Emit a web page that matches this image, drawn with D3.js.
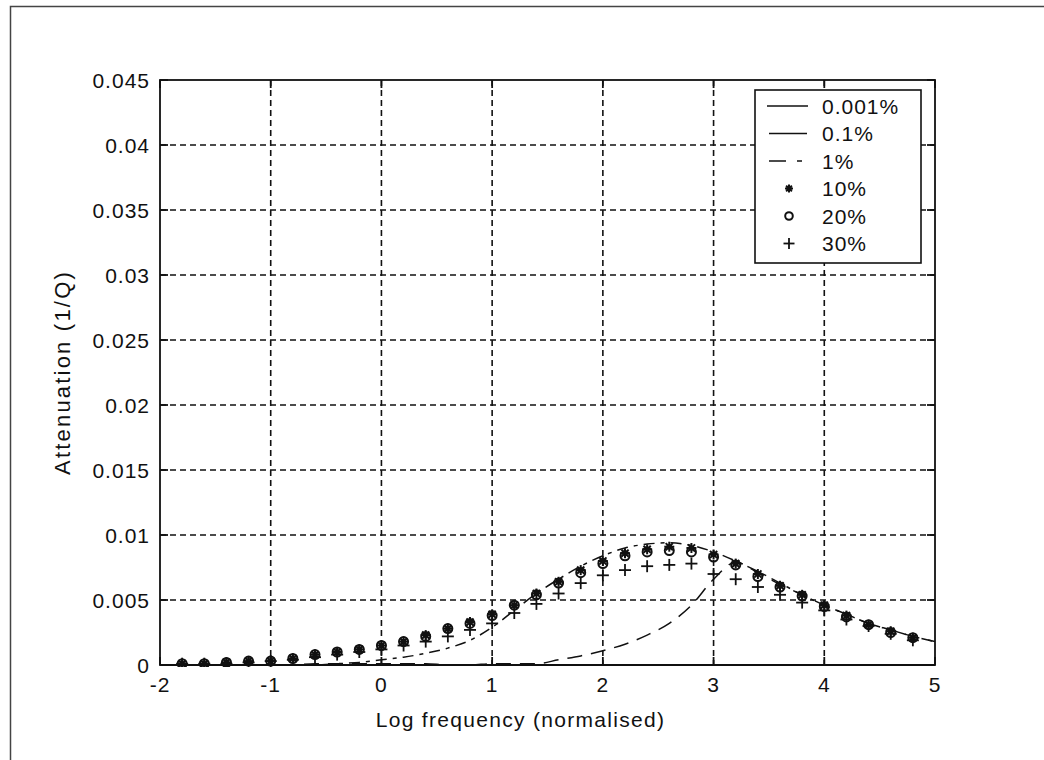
<!DOCTYPE html>
<html>
<head>
<meta charset="utf-8">
<script src="https://cdn.jsdelivr.net/npm/d3@7/dist/d3.min.js"></script>
<style>
  html, body { margin: 0; padding: 0; background: #fff; }
  svg { display: block; }
  text { font-family: "Liberation Sans", Arial, sans-serif; fill: #111; }
</style>
</head>
<body>
<svg id="chart" width="1044" height="760"></svg>
<script>
// Sampled log frequencies for the model curves
const lineFreq = [-2, -1.8, -1.6, -1.4, -1.2, -1, -0.8, -0.6, -0.4, -0.2, 0, 0.2, 0.4, 0.6, 0.8,
  1, 1.2, 1.4, 1.6, 1.8, 2, 2.2, 2.4, 2.6, 2.8, 3, 3.2, 3.4, 3.6, 3.8, 4, 4.2, 4.4, 4.6, 4.8, 5];
const curve0001 = [0, 0, 0, 0, 0, 0, 0, 0, 0, 0, 0, 0, 0, 0, 0,
  0, 0, 0, 0, 0, 0, 0, 0, 0, 0, 0, 0, 0, 0, 0, 0, 0, 0, 0, 0, 0];
const curve01 = [0, 0, 0, 0, 0, 0, 0, 0.0001, 0.0001, 0.0001, 0.0001, 0.0001, 0.0001, 0, 0,
  0.0001, 0.0001, 0.0001, 0.0004, 0.0007, 0.0011, 0.0016, 0.0023, 0.0032, 0.0046, 0.0066, 0.0079, 0.0071, 0.0062, 0.0054,
  0.0046, 0.0039, 0.0032, 0.0027, 0.0022, 0.0018];
const curve1 = [0, 0, 0, 0, 0, 0, 0, 0, 0.0001, 0.0002, 0.0004, 0.0006, 0.0009, 0.0013, 0.0019,
  0.0029, 0.0042, 0.0055, 0.0066, 0.0076, 0.0084, 0.0090, 0.0093, 0.0094, 0.0092, 0.0087, 0.0080, 0.0072, 0.0063, 0.0054,
  0.0046, 0.0039, 0.0032, 0.0027, 0.0022, 0.0018];

// Frequencies of the marker series
const markFreq = [-1.8, -1.6, -1.4, -1.2, -1, -0.8, -0.6, -0.4, -0.2, 0, 0.2, 0.4, 0.6, 0.8,
  1, 1.2, 1.4, 1.6, 1.8, 2, 2.2, 2.4, 2.6, 2.8, 3, 3.2, 3.4, 3.6, 3.8, 4, 4.2, 4.4, 4.6, 4.8];
const att10 = [0.0001, 0.0001, 0.0002, 0.0003, 0.0003, 0.0005, 0.0008, 0.0010, 0.0012, 0.0015, 0.0018, 0.0023, 0.0028, 0.0033,
  0.0039, 0.0046, 0.0055, 0.0064, 0.0073, 0.0080, 0.0086, 0.0089, 0.0091, 0.0090, 0.0085, 0.0078, 0.0070, 0.0061, 0.0054,
  0.0046, 0.0038, 0.0031, 0.0026, 0.0021];
const att20 = [0.0001, 0.0001, 0.0002, 0.0003, 0.0003, 0.0005, 0.0008, 0.0010, 0.0012, 0.0015, 0.0018, 0.0022, 0.0028, 0.0032,
  0.0038, 0.0046, 0.0054, 0.0063, 0.0071, 0.0078, 0.0084, 0.0087, 0.0088, 0.0087, 0.0083, 0.0077, 0.0068, 0.0060, 0.0053,
  0.0045, 0.0037, 0.0031, 0.0025, 0.0021];
const att30 = [0.0001, 0.0001, 0.0001, 0.0002, 0.0003, 0.0004, 0.0006, 0.0008, 0.0010, 0.0012, 0.0015, 0.0018, 0.0022, 0.0027,
  0.0032, 0.0040, 0.0047, 0.0055, 0.0063, 0.0069, 0.0073, 0.0076, 0.0077, 0.0078, 0.0070, 0.0066, 0.0060, 0.0054, 0.0048,
  0.0042, 0.0035, 0.0030, 0.0024, 0.0019];

const xTicks = [-2, -1, 0, 1, 2, 3, 4, 5];
const yTicks = [0, 0.005, 0.01, 0.015, 0.02, 0.025, 0.03, 0.035, 0.04, 0.045];
const yTickLabels = ["0", "0.005", "0.01", "0.015", "0.02", "0.025", "0.03", "0.035", "0.04", "0.045"];
const legendLabels = ["0.001%", "0.1%", "1%", "10%", "20%", "30%"];

const svg = d3.select("#chart");
const W = 1044, H = 760;
const m = { left: 160, right: 935, top: 80, bottom: 665 };

svg.append("rect").attr("width", W).attr("height", H).attr("fill", "#fff");

// figure frame
svg.append("path")
  .attr("d", `M10.5,${H} L10.5,6.5 L${W},6.5`)
  .attr("fill", "none").attr("stroke", "#444").attr("stroke-width", 1.5);

const x = d3.scaleLinear().domain([-2, 5]).range([m.left, m.right]);
const y = d3.scaleLinear().domain([0, 0.045]).range([m.bottom, m.top]);

// dashed grid
const grid = svg.append("g").attr("stroke", "#111").attr("stroke-width", 1.6)
  .attr("stroke-dasharray", "6,4");
grid.selectAll("line.v").data(xTicks.slice(1, -1)).join("line")
  .attr("x1", d => x(d)).attr("x2", d => x(d))
  .attr("y1", m.top).attr("y2", m.bottom);
grid.selectAll("line.h").data(yTicks.slice(1, -1)).join("line")
  .attr("x1", m.left).attr("x2", m.right)
  .attr("y1", d => y(d)).attr("y2", d => y(d));

svg.append("clipPath").attr("id", "plotClip").append("rect")
  .attr("x", m.left).attr("y", m.top - 2)
  .attr("width", m.right - m.left).attr("height", m.bottom - m.top + 4);

const plot = svg.append("g").attr("clip-path", "url(#plotClip)");

const line = d3.line().x(d => x(d[0])).y(d => y(d[1])).curve(d3.curveMonotoneX);
const curves = [
  { vals: curve0001, dash: null, w: 2.2 },
  { vals: curve01, dash: "15,9", w: 1.5 },
  { vals: curve1, dash: "11,6,4,6", w: 1.5 }
];
curves.forEach(c => {
  plot.append("path")
    .datum(lineFreq.map((f, i) => [f, c.vals[i]]))
    .attr("d", line)
    .attr("fill", "none").attr("stroke", "#111")
    .attr("stroke-width", c.w)
    .attr("stroke-dasharray", c.dash);
});

// marker shapes
function asterisk(g, cx, cy, r) {
  const p = g.append("g").attr("stroke", "#111").attr("stroke-width", 2);
  const d = r * 0.72;
  p.append("line").attr("x1", cx - r).attr("x2", cx + r).attr("y1", cy).attr("y2", cy);
  p.append("line").attr("x1", cx).attr("x2", cx).attr("y1", cy - r).attr("y2", cy + r);
  p.append("line").attr("x1", cx - d).attr("x2", cx + d).attr("y1", cy - d).attr("y2", cy + d);
  p.append("line").attr("x1", cx - d).attr("x2", cx + d).attr("y1", cy + d).attr("y2", cy - d);
  g.append("circle").attr("cx", cx).attr("cy", cy).attr("r", 2.8).attr("fill", "#111");
}
function ring(g, cx, cy, r) {
  g.append("circle").attr("cx", cx).attr("cy", cy).attr("r", r)
    .attr("fill", "none").attr("stroke", "#111").attr("stroke-width", 2);
}
function plus(g, cx, cy, r) {
  const p = g.append("g").attr("stroke", "#111").attr("stroke-width", 1.8);
  p.append("line").attr("x1", cx - r).attr("x2", cx + r).attr("y1", cy).attr("y2", cy);
  p.append("line").attr("x1", cx).attr("x2", cx).attr("y1", cy - r).attr("y2", cy + r);
}

const marks = plot.append("g");
markFreq.forEach((f, i) => asterisk(marks, x(f), y(att10[i]), 5));
markFreq.forEach((f, i) => ring(marks, x(f), y(att20[i]), 4.5));
markFreq.forEach((f, i) => plus(marks, x(f), y(att30[i]), 6));

// axes box with inward ticks
const axisG = svg.append("g").attr("stroke", "#111").attr("stroke-width", 1.8);
axisG.append("rect")
  .attr("x", m.left).attr("y", m.top)
  .attr("width", m.right - m.left).attr("height", m.bottom - m.top)
  .attr("fill", "none");
const tl = 8;
axisG.selectAll("line.xb").data(xTicks).join("line")
  .attr("x1", d => x(d)).attr("x2", d => x(d)).attr("y1", m.bottom).attr("y2", m.bottom - tl);
axisG.selectAll("line.xt").data(xTicks).join("line")
  .attr("x1", d => x(d)).attr("x2", d => x(d)).attr("y1", m.top).attr("y2", m.top + tl);
axisG.selectAll("line.yl").data(yTicks).join("line")
  .attr("y1", d => y(d)).attr("y2", d => y(d)).attr("x1", m.left).attr("x2", m.left + tl);
axisG.selectAll("line.yr").data(yTicks).join("line")
  .attr("y1", d => y(d)).attr("y2", d => y(d)).attr("x1", m.right).attr("x2", m.right - tl);

const fs = 21;
svg.append("g").selectAll("text").data(xTicks).join("text")
  .attr("x", d => x(d)).attr("y", 692)
  .attr("text-anchor", "middle").attr("font-size", fs).attr("letter-spacing", 1)
  .text(d => d);
svg.append("g").selectAll("text").data(yTicks).join("text")
  .attr("x", 150).attr("y", d => y(d)).attr("dy", "0.36em")
  .attr("text-anchor", "end").attr("font-size", fs).attr("letter-spacing", 1)
  .text((d, i) => yTickLabels[i]);

svg.append("text")
  .attr("x", (m.left + m.right) / 2 - 27).attr("y", 727)
  .attr("text-anchor", "middle").attr("font-size", fs).attr("letter-spacing", 1.3)
  .text("Log frequency (normalised)");
svg.append("text")
  .attr("transform", `translate(70,${(m.top + m.bottom) / 2}) rotate(-90)`)
  .attr("text-anchor", "middle").attr("font-size", 22).attr("letter-spacing", 2.2)
  .text("Attenuation (1/Q)");

// legend
const lg = svg.append("g");
lg.append("rect").attr("x", 755).attr("y", 90).attr("width", 166).attr("height", 173)
  .attr("fill", "#fff").attr("stroke", "#111").attr("stroke-width", 1.6);
const rowY = i => 106 + i * 27.5;
const samples = [
  g => g.append("line").attr("x1", 767).attr("x2", 808).attr("y1", rowY(0)).attr("y2", rowY(0))
    .attr("stroke", "#111").attr("stroke-width", 1.5),
  g => g.append("line").attr("x1", 769).attr("x2", 807).attr("y1", rowY(1)).attr("y2", rowY(1))
    .attr("stroke", "#111").attr("stroke-width", 1.5),
  g => g.append("line").attr("x1", 769).attr("x2", 808).attr("y1", rowY(2)).attr("y2", rowY(2))
    .attr("stroke", "#111").attr("stroke-width", 1.5).attr("stroke-dasharray", "17,11,5,20"),
  g => asterisk(g, 789, rowY(3), 4),
  g => ring(g, 789, rowY(4), 3.8),
  g => plus(g, 789, rowY(5), 5.5)
];
legendLabels.forEach((t, i) => {
  samples[i](lg);
  lg.append("text").attr("x", 822).attr("y", rowY(i)).attr("dy", "0.36em")
    .attr("font-size", fs).attr("letter-spacing", 1).text(t);
});
</script>
</body>
</html>
